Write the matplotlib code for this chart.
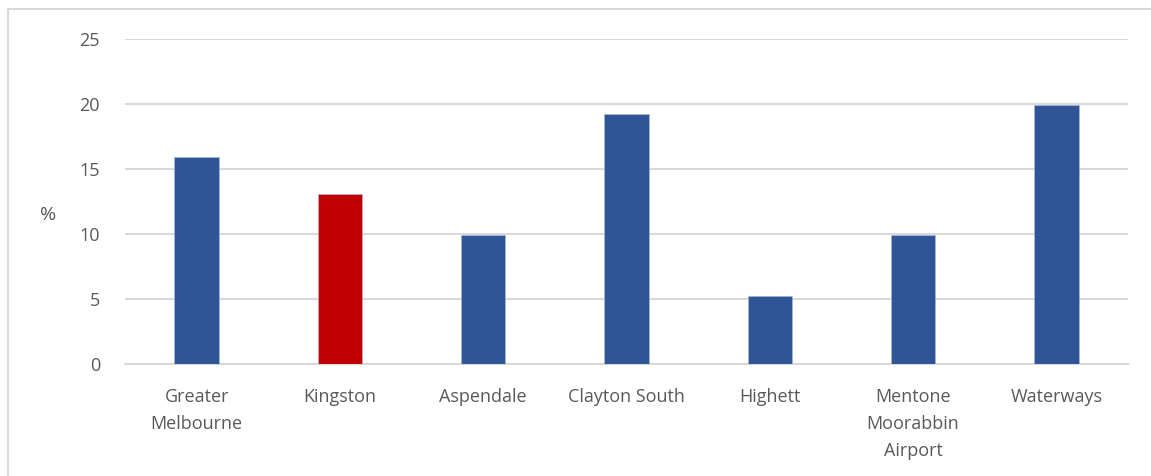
import matplotlib
matplotlib.use("Agg")
import matplotlib.pyplot as plt
from matplotlib.patches import Rectangle

categories = ["Greater\nMelbourne", "Kingston", "Aspendale", "Clayton South",
              "Highett", "Mentone\nMoorabbin\nAirport", "Waterways"]
values = [15.9, 13.1, 9.9, 19.2, 5.2, 9.9, 19.9]
highlight = "Kingston"
y_ticks = [0, 5, 10, 15, 20, 25]

BLUE = "#2F5597"
RED = "#C00000"
TEXT = "#595959"
GRID = "#D9D9D9"

plt.rcParams["font.family"] = ["Open Sans", "DejaVu Sans"]

fig = plt.figure(figsize=(11.51, 4.76), dpi=100)
ax = fig.add_axes([125 / 1151, 112 / 476, 1003 / 1151, 325 / 476])

# outer frame of the chart area (open at right and bottom)
fig.add_artist(Rectangle((8 / 1151, -0.1), 1.2, (476 - 9) / 476 + 0.1,
                         transform=fig.transFigure, fill=False,
                         edgecolor=GRID, linewidth=1.5))

colors = [RED if c.replace("\n", " ") == highlight else BLUE for c in categories]
x = range(len(categories))
ax.bar(x, values, width=0.31, color=colors, edgecolor="#A9BCE0", linewidth=0.4, zorder=3)

ax.set_xlim(-0.5, len(categories) - 0.5)
ax.set_ylim(0, 25)
ax.set_yticks(y_ticks)
ax.set_yticklabels([str(t) for t in y_ticks])
ax.set_xticks(list(x))
ax.set_xticklabels(categories, linespacing=1.65)

ax.grid(axis="y", color=GRID, linewidth=1.5, zorder=0)
ax.set_axisbelow(True)
for s in ["top", "right", "left"]:
    ax.spines[s].set_visible(False)
ax.spines["bottom"].set_color(GRID)
ax.spines["bottom"].set_linewidth(1.5)
ax.tick_params(axis="both", length=0, labelsize=13, colors=TEXT)
ax.tick_params(axis="y", pad=18)
ax.tick_params(axis="x", pad=17)

fig.text(48 / 1151, 1 - 215 / 476, "%", fontsize=14, color=TEXT,
         ha="center", va="center")

fig.savefig("out.png", dpi=100, facecolor="white")
